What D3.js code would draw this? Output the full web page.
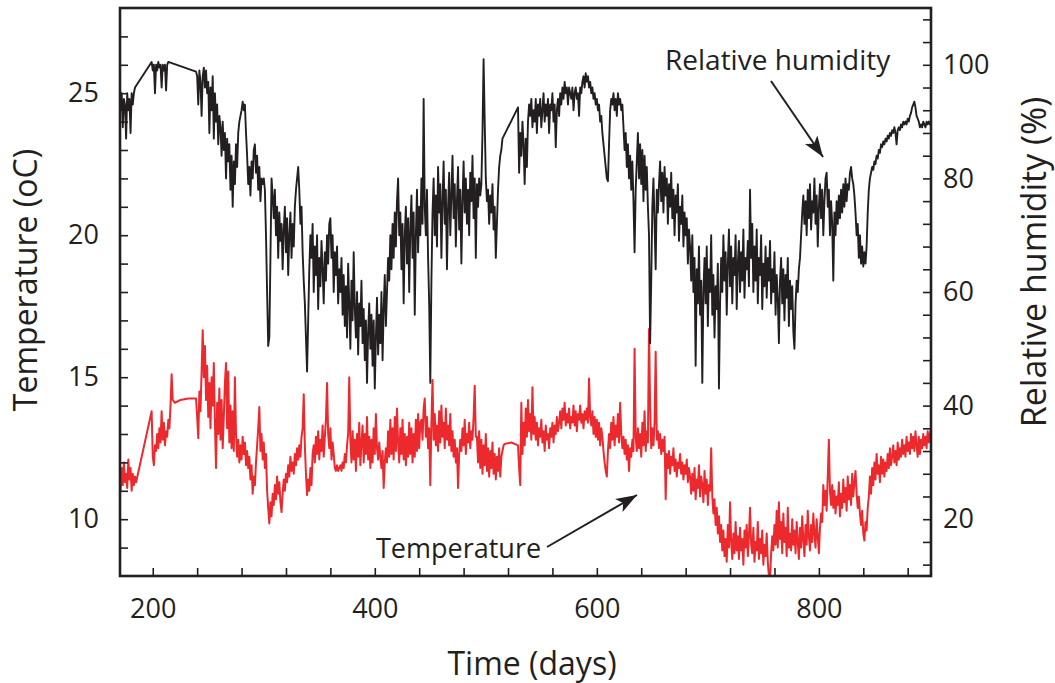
<!DOCTYPE html>
<html>
<head>
<meta charset="utf-8">
<script src="https://cdn.jsdelivr.net/npm/d3@7"></script>
<style>
  html, body { margin: 0; padding: 0; background: #fff; }
  svg { display: block; }
  text { font-family: "Open Sans", "Noto Sans", sans-serif; fill: #231f20; }
</style>
</head>
<body>
<svg id="chart" width="1055" height="683"></svg>
<script>
// ---------- DATA ----------
const xDomain = [170.5, 901];
const tempDomain = [8, 28];
const rhDomain = [10, 110];

const xTickLabels = [200, 400, 600, 800];
const xMinorTicks = [200, 240, 280, 320, 360, 400, 440, 480, 520, 560, 600, 640, 680, 720, 760, 800, 840, 880];
const tempTickLabels = [10, 15, 20, 25];
const tempMinorTicks = [9, 10, 11, 12, 13, 14, 15, 16, 17, 18, 19, 20, 21, 22, 23, 24, 25, 26, 27];
const rhTickLabels = [20, 40, 60, 80, 100];
const rhMinorTicks = [12, 16, 20, 24, 28, 32, 36, 40, 44, 48, 52, 56, 60, 64, 68, 72, 76, 80, 84, 88, 92, 96, 100, 104, 108];

const xTitle = "Time (days)";
const tempTitle = "Temperature (oC)";
const rhTitle = "Relative humidity (%)";
const rhLabel = "Relative humidity";
const tempLabel = "Temperature";

// relative humidity (%) : [day, value]
const rhSeries = [
[170,95],[171,92],[172,95],[173,89],[174,94],[175,93],[176,87],[177,95],[178,92],[179,94],[180,88],[181,95],[182,93],[183,95],[184,96],
[199,100.5],[200,99],[201,100],[202,95],[203,100],[204,99],[205,100.5],[206,99.5],[207,100],[208,96],[209,100],[210,99],[211,100],[212,95.5],[213,100],[214,100.5],
[239,98.8],[240,98],[241,93],[242,99],[243,97],[244,91],[245,98],[246,99.5],[247,96],[248,99],[249,95],
[250,97],[251,88],[252,96],[253,92],[254,98],[255,87],[256,95],[257,90],[258,93],[259,86],[260,91],
[261,89],[262,84],[263,90],[264,85],[265,88],[266,80],[267,87],[268,83],[269,86],[270,78],[271,84],[272,75],[273,83],[274,79],[275,86],
[276,82],[277,88],[278,90],[279,91],[280,92],[281,93.5],[282,92],[283,93],[284,88],[285,84],
[286,79],[287,82],[288,77],[289,83],[290,80],[291,85],[292,86],[293,81],[294,84],[295,78],[296,82],[297,76],[298,80],[299,79],[300,80],
[301,78],[302,70],[303,60],[304,50.5],[305,52],[306,66],[307,80],
[308,77],[309,73],[310,78],[311,70],[312,75],[313,66],[314,74],[315,69],[316,72],[317,64],[318,71],[319,75],[320,67],[321,73],[322,63],[323,70],[324,74],[325,66],[326,72],[327,68],[328,75],[329,78],[330,80],[331,82],[332,78],[333,72],[334,75],[335,67],[336,62],
[337,58],[338,52],[339,46],[340,55],[341,64],
[342,70],[343,66],[344,72],[345,60],[346,68],[347,63],[348,70],[349,57],[350,66],[351,61],[352,69],[353,64],[354,58],[355,67],[356,62],[357,70],[358,65],[359,72],[360,73],[361,66],[362,70],[363,60],[364,67],[365,63],[366,68],[367,58],[368,64],
[369,60],[370,66],[371,56],[372,63],[373,54],[374,61],[375,52],[376,65],[377,58],[378,50],[379,62],[380,55],[381,67],[382,57],[383,52],[384,60],[385,49],[386,58],[387,54],[388,62],[389,51],[390,57],[391,48],[392,55],[393,44],[394,53],[395,58],[396,50],[397,56],[398,47],[399,55],[400,43],[401,52],[402,59],[403,49],[404,56],[405,51],[406,60],[407,48],[408,57],[409,63],[410,54],[411,60],[412,66],
[413,62],[414,70],[415,64],[416,72],[417,66],[418,74],[419,68],[420,76],[421,80],[422,70],[423,74],[424,64],[425,72],[426,58],[427,70],[428,75],[429,65],[430,73],[431,60],[432,71],[433,77],[434,66],[435,74],[436,56],[437,70],[438,78],[439,67],[440,75],[441,70],[442,80],[443,72],[444,94],[445,75],
[446,70],[447,78],[448,66],[449,58],[450,44],[451,62],[452,74],
[453,80],[454,70],[455,77],[456,68],[457,82],[458,74],[459,79],[460,66],[461,76],[462,83],[463,72],[464,78],[465,64],[466,75],[467,81],[468,70],[469,77],[470,84],[471,73],[472,79],[473,68],[474,76],[475,82],[476,71],[477,78],[478,65],[479,76],[480,83],[481,74],[482,80],[483,72],[484,78],[485,70],[486,81],[487,76],[488,84],[489,73],[490,80],[491,66],[492,79],[493,75],[494,80],[495,77],[496,79],
[497,88],[498,101],[499,90],[500,80],
[501,76],[502,78],[503,72],[504,77],[505,74],[506,79],[507,71],[508,75],[509,66],[510,72],[511,78],[512,82],[513,84],[514,85],[515,87],
[529,92.5],[530,81],[531,88],[532,84],[533,90],[534,86],[535,79],[536,87],[537,82],[538,90],
[539,93],[540,91],[541,94],[542,89],[543,92],[544,90],[545,94],[546,88],[547,93],[548,91],[549,94],[550,89],[551,92],[552,95],[553,90],[554,93],[555,91],[556,94],[557,88],[558,93],[559,92],[560,95],[561,90],[562,93],[563,85.5],[564,92],[565,94],[566,91],[567,95],[568,93],[569,96],
[570,94],[571,97],[572,95],[573,96],[574,93],[575,96],[576,95],[577,94],[578,96],[579,92],[580,95],[581,96],[582,94],[583,95],[584,91],[585,96],[586,95],[587,97],[588,98],[589,96],[590,98.5],[591,97],[592,98],
[593,96],[594,97],[595,95],[596,96],[597,94],[598,95],[599,93],[600,94],[601,92],[602,93],[603,90],[604,91],[605,88],[606,86],[607,84],[608,82],[609,80],[610,79.5],[611,86],[612,92],
[613,94],[614,93],[615,95],[616,92],[617,94],[618,91],[619,95],[620,93],[621,94],[622,92],[623,93],
[624,89],[625,85],[626,88],[627,82],[628,86],[629,80],[630,84],[631,78],[632,83],[633,76],[634,67],[635,78],[636,83],
[637,88],[638,80],[639,86],[640,79],[641,85],[642,76],[643,84],[644,78],[645,82],[646,75],[647,70],[648,51],[649,62],[650,75],[651,80],[652,72],[653,64],[654,78],[655,74],
[656,79],[657,83],[658,76],[659,81],[660,74],[661,82],[662,77],[663,80],[664,72],[665,79],[666,75],[667,81],[668,73],[669,78],[670,70],[671,77],[672,74],[673,79],[674,69],[675,75],[676,72],[677,77],[678,68],[679,74],[680,70],[681,73],[682,65],[683,71],
[684,68],[685,62],[686,70],[687,60],[688,66],[689,47],[690,64],[691,58],[692,68],[693,56],[694,62],[695,44],[696,60],
[697,66],[698,58],[699,68],[700,54],[701,64],[702,60],[703,70],[704,56],[705,63],[706,52],[707,61],[708,57],[709,65],[710,43],[711,58],
[712,66],[713,60],[714,70],[715,62],[716,67],[717,56],[718,65],[719,71],[720,61],[721,68],[722,58],[723,66],[724,63],[725,70],[726,57],[727,65],[728,69],[729,60],[730,67],[731,62],[732,71],[733,59],[734,66],[735,64],[736,69],[737,61],
[738,78],[739,66],[740,72],[741,60],
[742,68],[743,62],[744,71],[745,58],[746,66],[747,63],[748,70],[749,57],[750,65],[751,61],[752,68],[753,59],[754,66],[755,62],[756,69],[757,58],[758,64],[759,60],[760,67],[761,56],[762,63],[763,59],[764,51],[765,62],
[766,66],[767,58],[768,64],[769,55],[770,63],[771,59],[772,66],[773,54],[774,62],[775,57],[776,61],[777,53],[778,50],[779,58],[780,62],
[781,60],[782,64],[783,66],[784,70],[785,74],[786,77],[787,72],[788,76],[789,70],[790,78],[791,73],[792,79],[793,71],[794,76],[795,74],[796,80],[797,72],[798,77],[799,68],[800,75],[801,79],[802,73],[803,78],[804,70],[805,76],[806,80],[807,81],[808,75],[809,78],[810,70],[811,76],[812,72],[813,62],[814,74],[815,70],[816,76],
[817,72],[818,77],[819,73],[820,78],[821,74],[822,79],[823,75],[824,80],[825,76],[826,79],[827,78],[828,81],[829,82],[830,80],
[831,79],[832,77],[833,74],[834,70],[835,72],[836,66],[837,70],[838,65],[839,68],[840,64.5],[841,67],[842,65],[843,68],
[844,74],[845,78],[846,80],[847,81],[848,82],[849,81.5],[850,83],[851,82.5],[852,84],[853,83.5],[854,85],[855,84.5],[856,86],[857,85.5],[858,86.5],[859,86],[860,87],[861,86.5],
[862,87.5],[863,87],[864,88],[865,87.5],[866,88.5],[867,88],[868,89],[869,88],[870,86],[871,88.5],[872,89],[873,88.5],[874,89.5],[875,89],[876,90],[877,89.5],[878,90],[879,89.5],[880,90.5],[881,90],[882,91],[883,91.5],[884,92.5],[885,93],[886,93.5],[887,92.5],[888,91],[889,90.5],[890,90],[891,89],[892,89.5],[893,89],[894,90],[895,89.5],[896,89],[897,90],[898,89.5],[899,90],[900,89.5],[901,90]
];

// temperature (oC) : [day, value]
const tempSeries = [
[170,11.4],[171,11.0],[172,11.8],[173,11.2],[174,12.0],[175,11.3],[176,11.6],[177,11.1],[178,12.1],[179,11.4],[180,11.8],[181,11.0],[182,11.6],[183,11.2],[184,11.5],[185,11.3],
[199,13.8],[200,12.2],[201,11.9],[202,12.6],
[203,12.4],[204,13.0],[205,12.5],[206,13.2],[207,12.7],[208,13.8],[209,12.8],[210,13.4],[211,12.6],[212,13.1],[213,12.9],[214,13.5],[215,13.2],[216,14.0],[217,15.1],[218,14.2],
[220,14.1],[225,14.2],[232,14.25],[239,14.25],
[240,13.6],[241,12.85],[242,14.5],[243,13.8],[244,15.2],[245,16.65],[246,15.0],[247,16.1],
[248,14.2],[249,15.4],[250,13.6],[251,14.8],[252,13.2],[253,15.0],[254,14.0],[255,15.5],[256,13.4],[257,11.8],[258,14.1],[259,13.0],[260,14.6],
[261,12.8],[262,14.2],[263,12.5],[264,13.6],[265,14.8],[266,15.5],[267,13.2],[268,15.2],[269,12.7],[270,14.0],[271,12.5],[272,13.8],[273,12.4],[274,15.0],[275,13.0],
[276,12.2],[277,12.8],[278,12.0],[279,12.6],[280,12.1],[281,12.9],[282,12.3],[283,12.7],[284,11.9],[285,12.4],
[286,11.8],[287,12.2],[288,11.4],[289,11.9],[290,10.9],[291,11.5],[292,11.2],[293,12.0],
[294,12.6],[295,13.2],[296,13.95],[297,12.4],[298,13.0],[299,12.1],[300,12.7],[301,11.8],[302,12.3],
[303,11.0],[304,10.4],[305,9.85],[306,10.6],[307,10.1],[308,10.9],
[309,10.5],[310,11.2],[311,10.7],[312,11.5],[313,10.9],[314,11.3],[315,10.6],[316,10.25],[317,10.9],[318,11.4],[319,11.0],[320,11.6],
[321,11.3],[322,11.9],[323,11.5],[324,12.2],[325,11.7],[326,12.0],[327,11.6],[328,12.3],[329,11.9],[330,12.5],[331,12.1],[332,12.6],[333,12.2],[334,12.9],[335,13.2],[336,14.4],[337,12.6],[338,11.6],[339,10.85],[340,11.4],[341,11.0],[342,11.8],[343,11.2],[344,12.3],
[345,12.6],[346,12.0],[347,12.9],[348,12.3],[349,13.1],[350,12.1],[351,12.8],[352,12.4],[353,13.3],[354,12.2],[355,12.9],[356,13.5],[357,14.8],[358,13.0],[359,12.5],[360,13.2],[361,12.1],[362,12.7],[363,12.3],
[364,11.8],[365,11.7],[366,11.9],[367,11.7],[368,11.8],[369,11.9],[370,11.7],[371,12.0],[372,11.8],
[373,12.3],[374,12.0],[375,12.6],[376,13.0],[377,15.0],[378,12.8],
[379,12.0],[380,13.1],[381,12.1],[382,12.8],[383,11.7],[384,13.0],[385,12.2],[386,13.4],[387,11.9],[388,12.7],[389,13.3],[390,12.0],[391,13.0],[392,12.3],[393,13.6],[394,12.1],[395,12.9],[396,11.8],[397,12.8],[398,12.0],[399,13.2],[400,12.3],[401,13.7],[402,12.5],
[403,12.1],[404,12.7],[405,12.2],[406,11.8],[407,12.4],[408,11.1],[409,12.0],[410,12.5],
[411,12.0],[412,13.1],[413,12.2],[414,13.5],[415,12.3],[416,13.2],[417,12.1],[418,13.6],[419,12.4],[420,13.9],[421,12.7],[422,12.0],[423,13.2],[424,12.3],[425,13.5],[426,12.1],[427,13.0],[428,11.9],[429,12.9],[430,12.2],[431,13.4],[432,12.3],[433,13.2],[434,12.0],[435,13.0],[436,12.2],[437,13.5],[438,12.4],[439,13.7],[440,12.5],[441,13.4],
[442,13.5],[443,12.8],[444,13.9],[445,14.25],[446,12.9],[447,13.6],[448,12.5],[449,13.2],[450,11.2],[451,13.4],[452,14.9],[453,12.8],[454,13.7],[455,12.6],[456,13.3],[457,12.4],[458,13.8],[459,12.7],[460,14.0],[461,12.9],[462,13.4],[463,12.5],[464,13.9],[465,12.8],[466,13.3],[467,12.6],[468,13.7],[469,12.4],[470,13.1],[471,12.2],
[472,12.8],[473,12.0],[474,12.5],[475,11.1],[476,12.3],[477,12.8],
[478,12.4],[479,13.2],[480,12.6],[481,13.5],[482,12.3],[483,13.0],[484,12.7],[485,13.4],[486,12.5],[487,13.1],[488,12.8],[489,13.6],[490,14.7],[491,12.9],
[492,12.9],[493,12.0],[494,13.1],[495,11.8],[496,12.8],[497,11.6],[498,12.6],[499,11.9],[500,13.0],[501,11.7],[502,12.5],[503,11.5],[504,12.4],[505,11.8],[506,12.7],[507,11.6],[508,12.3],[509,11.4],[510,12.2],[511,11.7],[512,12.5],[513,11.5],[514,12.2],[515,12.4],[516,12.6],[517,12.65],
[523,12.7],[529,12.6],
[530,11.8],[531,11.2],[532,14.1],[533,12.3],
[534,13.4],[535,12.6],[536,13.9],[537,12.9],[538,14.2],[539,13.1],[540,13.7],[541,12.8],[542,14.65],[543,13.0],[544,13.6],
[545,12.8],[546,13.4],[547,12.6],[548,13.2],[549,12.9],[550,13.5],[551,12.7],[552,13.1],[553,12.4],[554,13.3],[555,12.8],[556,13.0],[557,12.5],[558,13.2],[559,12.9],[560,13.4],[561,12.7],[562,13.3],[563,13.0],[564,13.6],[565,13.1],
[566,13.4],[567,13.8],[568,13.2],[569,13.9],[570,13.5],[571,14.1],[572,13.3],[573,13.7],[574,13.4],[575,13.9],[576,13.2],[577,13.6],[578,13.4],[579,14.0],[580,13.3],[581,13.8],[582,13.1],[583,13.7],[584,13.5],[585,14.0],[586,13.4],[587,13.7],[588,13.2],[589,13.8],
[590,13.5],[591,13.9],[592,13.4],[593,14.95],[594,13.6],
[595,13.3],[596,13.8],[597,13.0],[598,13.6],[599,12.9],[600,13.5],[601,12.8],[602,13.4],[603,12.6],[604,13.2],[605,12.9],[606,12.4],[607,12.0],[608,11.7],[609,11.5],[610,12.4],
[611,13.0],[612,12.5],[613,13.4],[614,12.8],[615,13.6],[616,12.6],[617,13.3],[618,12.9],[619,13.7],[620,12.7],[621,14.1],[622,13.0],[623,12.5],
[624,12.9],[625,12.3],[626,12.8],[627,12.1],[628,12.6],[629,11.7],[630,12.5],[631,12.2],[632,12.8],[633,12.4],
[634,16.0],[635,12.9],[636,12.4],
[637,13.2],[638,12.5],[639,13.0],[640,12.2],[641,13.4],[642,12.6],[643,13.8],[644,12.4],[645,13.1],[646,12.7],[647,16.7],[648,14.0],[649,12.5],[650,13.2],
[651,12.6],[652,13.4],[653,15.9],[654,12.8],
[655,13.1],[656,12.5],[657,13.0],[658,12.3],[659,12.8],[660,12.4],[661,12.9],[662,10.7],[663,12.3],
[664,11.8],[665,12.4],[666,11.6],[667,12.2],[668,11.9],[669,12.5],[670,11.7],[671,12.1],[672,11.5],[673,12.0],[674,11.8],[675,12.3],[676,11.6],[677,12.0],[678,11.4],[679,11.9],[680,11.6],[681,12.1],[682,11.3],[683,11.8],
[684,11.5],[685,10.9],[686,11.6],[687,11.0],[688,11.8],[689,10.7],[690,11.4],[691,11.1],[692,11.9],[693,10.8],[694,11.5],[695,11.2],[696,10.6],[697,11.7],[698,10.9],[699,11.4],[700,10.5],[701,11.2],
[702,11.0],[703,12.5],[704,10.8],[705,10.2],[706,10.7],[707,9.8],[708,10.4],[709,9.5],[710,10.1],[711,9.2],[712,9.8],[713,8.9],
[714,9.6],[715,8.7],[716,9.3],[717,8.5],[718,9.8],[719,9.0],[720,10.6],[721,9.2],[722,8.6],[723,9.5],[724,8.8],[725,9.9],[726,8.9],
[727,9.4],[728,8.6],[729,9.7],[730,8.9],[731,9.3],[732,8.4],[733,9.6],[734,9.0],[735,9.8],[736,8.7],[737,9.4],[738,10.4],[739,9.1],[740,8.8],[741,9.7],[742,8.5],[743,9.2],[744,8.9],[745,9.9],[746,8.6],[747,9.3],[748,8.8],[749,9.6],[750,8.4],[751,9.1],[752,8.7],[753,9.5],[754,8.5],[755,8.0],[756,7.9],[757,8.8],
[758,9.4],[759,8.9],[760,9.8],[761,9.1],[762,10.3],[763,9.0],[764,10.6],[765,9.3],[766,9.9],[767,8.8],[768,10.2],[769,9.2],[770,9.7],[771,8.7],[772,10.4],[773,9.0],[774,9.5],[775,8.9],[776,10.0],[777,9.1],
[778,9.6],[779,8.8],[780,9.9],[781,9.2],[782,8.6],[783,9.7],[784,9.0],[785,10.1],[786,9.3],[787,8.7],[788,9.8],[789,9.1],[790,10.3],[791,9.4],[792,8.9],[793,9.8],[794,9.2],[795,10.2],[796,9.5],[797,9.0],[798,10.0],[799,9.4],[800,8.8],[801,9.7],
[802,10.2],[803,9.9],[804,11.2],[805,10.5],[806,11.0],[807,10.3],[808,11.5],[809,12.8],[810,11.0],[811,10.5],
[812,11.2],[813,10.4],[814,11.0],[815,10.2],[816,10.8],[817,10.5],[818,11.3],[819,10.1],[820,10.9],[821,10.4],[822,11.4],[823,10.6],[824,11.1],[825,10.3],[826,11.5],[827,10.7],[828,11.2],[829,10.5],[830,11.6],[831,10.8],[832,11.3],[833,11.7],[834,10.9],[835,10.4],[836,10.8],
[837,10.2],[838,9.8],[839,10.3],[840,9.5],[841,9.25],[842,9.9],[843,9.6],[844,10.4],
[845,10.8],[846,11.5],[847,10.9],[848,11.8],[849,11.2],[850,12.0],[851,11.4],[852,12.3],[853,11.6],[854,11.9],[855,11.3],[856,12.2],[857,11.6],[858,12.1],[859,11.5],[860,12.0],[861,11.7],
[862,12.3],[863,11.8],[864,12.5],[865,11.9],[866,12.2],[867,12.6],[868,12.0],[869,12.4],[870,11.9],[871,12.7],[872,12.1],[873,12.5],[874,12.2],[875,12.8],[876,12.3],[877,12.6],[878,12.2],[879,12.9],[880,12.4],[881,12.7],[882,12.3],[883,13.0],[884,12.5],[885,12.9],[886,12.4],[887,13.1],[888,12.6],[889,12.2],[890,12.9],[891,12.3],[892,12.8],[893,12.5],[894,13.0],[895,12.6],[896,12.9],[897,12.5],[898,13.1],[899,12.7],[900,13.0],[901,13.2]
];

// ---------- CHART ----------
const ink = "#231f20";
const red = "#ec2a2e";
const m = { left: 120, right: 931, top: 8, bottom: 576 };

const svg = d3.select("#chart");

const x = d3.scaleLinear().domain(xDomain).range([m.left, m.right]);
const yT = d3.scaleLinear().domain(tempDomain).range([m.bottom, m.top]);
const yRH = d3.scaleLinear().domain(rhDomain).range([m.bottom, m.top]);

svg.append("defs").append("clipPath").attr("id", "plotclip")
  .append("rect").attr("x", m.left).attr("y", m.top)
  .attr("width", m.right - m.left).attr("height", m.bottom - m.top);

const lineT = d3.line().x(d => x(d[0])).y(d => yT(d[1]));
const lineRH = d3.line().x(d => x(d[0])).y(d => yRH(d[1]));

const plot = svg.append("g").attr("clip-path", "url(#plotclip)");
plot.append("path").datum(tempSeries).attr("d", lineT)
  .attr("fill", "none").attr("stroke", red).attr("stroke-width", 2).attr("stroke-linejoin", "round");
plot.append("path").datum(rhSeries).attr("d", lineRH)
  .attr("fill", "none").attr("stroke", ink).attr("stroke-width", 1.9).attr("stroke-linejoin", "round");

// axes (ticks inward)
const tickLen = 8;
const fontTick = 27;

const gB = svg.append("g").attr("transform", `translate(0,${m.bottom})`)
  .call(d3.axisBottom(x).tickValues(xMinorTicks).tickSize(-tickLen).tickFormat(""));
const gBL = svg.append("g").attr("transform", `translate(0,${m.bottom})`)
  .call(d3.axisBottom(x).tickValues(xTickLabels).tickSize(0).tickPadding(23).tickFormat(d3.format("d")));

const gL = svg.append("g").attr("transform", `translate(${m.left},0)`)
  .call(d3.axisLeft(yT).tickValues(tempMinorTicks).tickSize(-tickLen).tickFormat(""));
const gLL = svg.append("g").attr("transform", `translate(${m.left},0)`)
  .call(d3.axisLeft(yT).tickValues(tempTickLabels).tickSize(0).tickPadding(21).tickFormat(d3.format("d")));

const gR = svg.append("g").attr("transform", `translate(${m.right},0)`)
  .call(d3.axisRight(yRH).tickValues(rhMinorTicks).tickSize(-tickLen).tickFormat(""));
const gRL = svg.append("g").attr("transform", `translate(${m.right},0)`)
  .call(d3.axisRight(yRH).tickValues(rhTickLabels).tickSize(0).tickPadding(12).tickFormat(d3.format("d")));

[gB, gBL, gL, gLL, gR, gRL].forEach(g => {
  g.select(".domain").remove();
  g.selectAll(".tick line").attr("stroke", ink).attr("stroke-width", 1.6);
  g.selectAll(".tick text").attr("fill", ink).style("font-size", fontTick + "px")
    .style("font-family", '"Open Sans", sans-serif');
});

// frame
svg.append("rect").attr("x", m.left).attr("y", m.top)
  .attr("width", m.right - m.left).attr("height", m.bottom - m.top)
  .attr("fill", "none").attr("stroke", ink).attr("stroke-width", 2.6);

// titles
svg.append("text").attr("x", 532).attr("y", 675).attr("text-anchor", "middle")
  .style("font-size", "32px").text(xTitle);
svg.append("text").attr("transform", "translate(37,280) rotate(-90)").attr("text-anchor", "middle")
  .style("font-size", "32px").text(tempTitle);
svg.append("text").attr("transform", "translate(1046,262) rotate(-90)").attr("text-anchor", "middle")
  .style("font-size", "34px").text(rhTitle);

// annotations
svg.append("defs").append("marker").attr("id", "ah")
  .attr("viewBox", "-22 -9 24 18").attr("refX", 0).attr("refY", 0)
  .attr("markerWidth", 24).attr("markerHeight", 18).attr("markerUnits", "userSpaceOnUse")
  .attr("orient", "auto")
  .append("path").attr("d", "M0,0 L-21,-7.5 L-16,0 L-21,7.5 Z").attr("fill", ink);

svg.append("text").attr("x", 665).attr("y", 70).style("font-size", "28px").text(rhLabel);
svg.append("line").attr("x1", 771).attr("y1", 81).attr("x2", 823).attr("y2", 157)
  .attr("stroke", ink).attr("stroke-width", 2).attr("marker-end", "url(#ah)");

svg.append("text").attr("x", 376).attr("y", 558).style("font-size", "27px").text(tempLabel);
svg.append("line").attr("x1", 547).attr("y1", 547).attr("x2", 637).attr("y2", 495)
  .attr("stroke", ink).attr("stroke-width", 2).attr("marker-end", "url(#ah)");
</script>
</body>
</html>
